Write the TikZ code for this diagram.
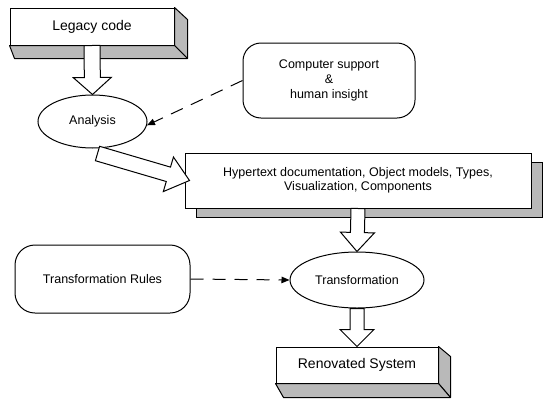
\documentclass[tikz,border=0pt]{standalone}
\usepackage{fontspec}
\setmainfont{Liberation Sans}
\usetikzlibrary{calc,shapes.geometric,arrows.meta}

% hollow block arrow: #1 start, #2 tip, #3 shaft half width, #4 head half width, #5 head length
\newcommand\blockarrow[5]{%
  \draw[hollow] let \p1=(#1), \p2=(#2),
      \n1={atan2(\y2-\y1,\x2-\x1)}, \n2={veclen(\x2-\x1,\y2-\y1)} in
    ([shift={(\p1)},rotate=\n1]0,#3) --
    ([shift={(\p1)},rotate=\n1]\n2-#5,#3) --
    ([shift={(\p1)},rotate=\n1]\n2-#5,#4) --
    ([shift={(\p1)},rotate=\n1]\n2,0) --
    ([shift={(\p1)},rotate=\n1]\n2-#5,-#4) --
    ([shift={(\p1)},rotate=\n1]\n2-#5,-#3) --
    ([shift={(\p1)},rotate=\n1]0,-#3) -- cycle;}

\begin{document}
\begin{tikzpicture}[x=1pt,y=-1pt,
  outline/.style={draw=black,line width=1pt},
  plainbox/.style={outline,fill=white,rectangle,inner sep=0pt},
  roundbox/.style={outline,fill=white,rectangle,rounded corners=18pt,inner sep=0pt},
  oval/.style={outline,fill=white,ellipse,inner sep=0pt},
  side/.style={outline,fill=gray!55,line join=round},
  hollow/.style={outline,fill=white,line join=miter},
  hint/.style={line width=1pt,dash pattern=on 13pt off 9pt,-{Triangle[length=8pt,width=6.5pt]}},
  bigtext/.style={font=\fontsize{14}{16}\selectfont},
  midtext/.style={font=\fontsize{12.5}{13.5}\selectfont,align=center},
]
\useasboundingbox (0,0) rectangle (545,399);
\fill[white] (0,0) rectangle (545,399);

% Legacy code: raised box
\node[plainbox,bigtext,minimum width=164pt,minimum height=37pt] (legacy) at (92,26.5) {Legacy code};
\draw[side] (legacy.north east) -- ($(legacy.north east)+(13,12)$) --
  ($(legacy.south east)+(13,13)$) -- (legacy.south east) -- cycle;
\draw[side] (legacy.south west) -- (legacy.south east) --
  ($(legacy.south east)+(13,13)$) -- ($(legacy.south west)+(5,13)$) -- cycle;

% Analysis
\node[oval,midtext,minimum width=109pt,minimum height=53pt] (analysis) at (92.5,121.5) {Analysis};

% Computer support & human insight
\node[roundbox,midtext,font=\fontsize{12.5}{15}\selectfont,minimum width=172pt,minimum height=75pt]
  (support) at (329,80.5) {Computer support\\\&\\human insight};

% Results box with drop shadow
\fill[gray!55,draw=black,line width=1pt] (196,162) rectangle (542,217);
\node[plainbox,midtext,minimum width=346pt,minimum height=55pt] (docs) at (358,180.5)
  {Hypertext documentation, Object models, Types,\\Visualization, Components};

% Transformation
\node[oval,midtext,minimum width=134pt,minimum height=56pt] (trans) at (357,280) {Transformation};

% Transformation Rules
\node[roundbox,rounded corners=20pt,midtext,minimum width=175pt,minimum height=68pt]
  (rules) at (102.5,279) {Transformation Rules};

% Renovated System: raised box
\node[plainbox,bigtext,minimum width=162pt,minimum height=36pt] (renov) at (357,365) {Renovated System};
\draw[side] (renov.north east) -- ($(renov.north east)+(12,10)$) --
  ($(renov.south east)+(12,14)$) -- (renov.south east) -- cycle;
\draw[side] (renov.south west) -- (renov.south east) --
  ($(renov.south east)+(12,14)$) -- ($(renov.south west)+(8,14)$) -- cycle;

% flow arrows
\blockarrow{legacy.south}{analysis.north}{8}{19}{17}
\coordinate (a0) at ($(analysis.south)+(5,5)$);
\coordinate (a1) at ($(docs.west)+(5,0)$);
\blockarrow{a0}{a1}{7.5}{18}{22}
\blockarrow{docs.south}{trans.north}{7}{17}{19}
\blockarrow{trans.south}{renov.north}{7}{17}{17}

% dashed influence arrows
\draw[hint] (support.west) -- (analysis.-4);
\draw[hint] (rules.east) -- (trans.west);
\end{tikzpicture}
\end{document}
